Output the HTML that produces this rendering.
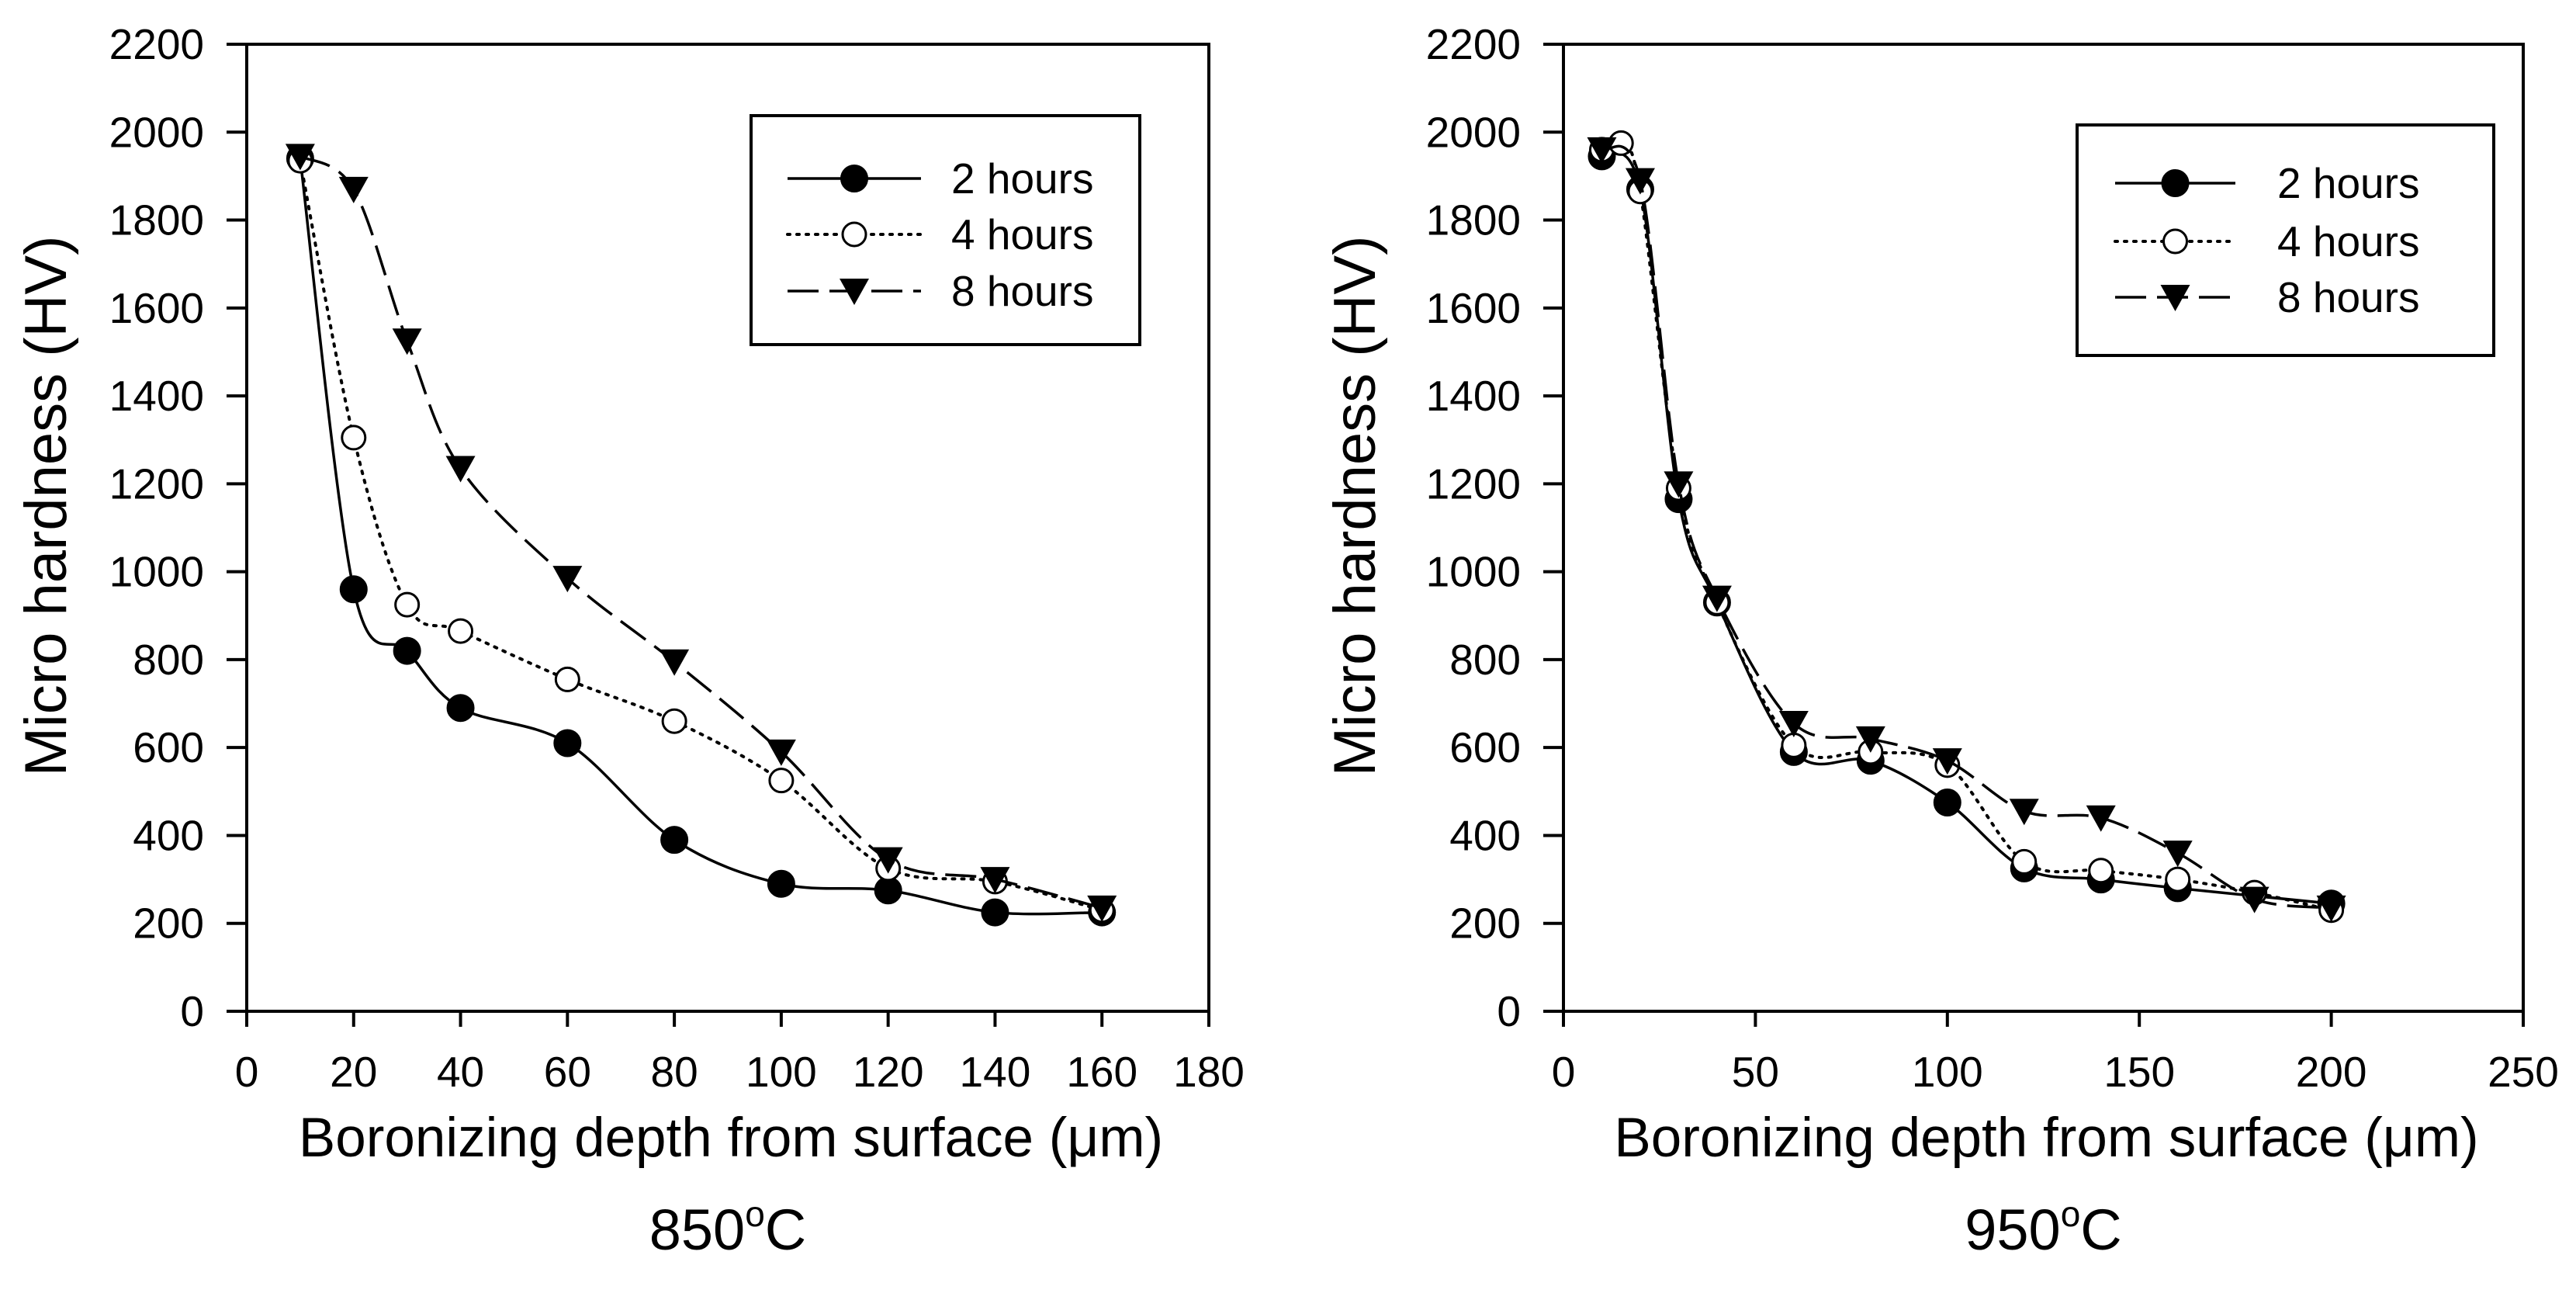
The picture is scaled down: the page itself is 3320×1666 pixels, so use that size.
<!DOCTYPE html>
<html><head><meta charset="utf-8"><style>
html,body{margin:0;padding:0;background:#fff}
svg{display:block}
text{font-family:"Liberation Sans",Arial,sans-serif;fill:#000}
</style></head><body>
<svg id="svg" width="3320" height="1666" viewBox="0 0 3320 1666" xmlns="http://www.w3.org/2000/svg"></svg>
<script>
// ---- data ----
const yTicks = [0,200,400,600,800,1000,1200,1400,1600,1800,2000,2200];
const xTicksA = [0,20,40,60,80,100,120,140,160,180];
const xTicksB = [0,50,100,150,200,250];
const seriesNames = ["2 hours","4 hours","8 hours"];
const a2x = [10,20,30,40,60,80,100,120,140,160];
const a2y = [1940,960,820,690,610,390,290,275,225,225];
const a4x = [10,20,30,40,60,80,100,120,140,160];
const a4y = [1935,1305,925,865,755,660,525,325,295,230];
const a8x = [10,20,30,40,60,80,100,120,140,160];
const a8y = [1945,1870,1525,1235,985,795,590,345,300,235];
const b2x = [10,20,30,40,60,80,100,120,140,160,200];
const b2y = [1945,1870,1165,930,590,570,475,325,300,280,245];
const b4x = [10,15,20,30,40,60,80,100,120,140,160,180,200];
const b4y = [1960,1975,1865,1190,930,605,590,560,340,320,300,270,230];
const b8x = [10,20,30,40,60,80,100,120,140,160,180,200];
const b8y = [1960,1890,1200,940,655,620,570,455,440,360,255,235];

const NS="http://www.w3.org/2000/svg";
const svg=document.getElementById('svg');
function el(tag,attrs,parent){const e=document.createElementNS(NS,tag);for(const k in attrs)e.setAttribute(k,attrs[k]);(parent||svg).appendChild(e);return e;}

function spline(pts){
  let d=`M${pts[0][0]},${pts[0][1]}`;
  for(let i=0;i<pts.length-1;i++){
    const p0=pts[Math.max(i-1,0)],p1=pts[i],p2=pts[i+1],p3=pts[Math.min(i+2,pts.length-1)];
    const c1=[p1[0]+(p2[0]-p0[0])/6,p1[1]+(p2[1]-p0[1])/6];
    const c2=[p2[0]-(p3[0]-p1[0])/6,p2[1]-(p3[1]-p1[1])/6];
    d+=` C${c1[0]},${c1[1]} ${c2[0]},${c2[1]} ${p2[0]},${p2[1]}`;
  }
  return d;
}
const dashes=["none","3 9","40 14"];
function marker(g,kind,x,y){
  let m;
  if(kind===0){m=el('circle',{cx:x,cy:y,r:17,fill:'#000',stroke:'#000','stroke-width':2},g);}
  else if(kind===1){m=el('circle',{cx:x,cy:y,r:15,fill:'#fff',stroke:'#000','stroke-width':3},g);}
  else {m=el('polygon',{points:`${x-19},${y-16} ${x+19},${y-16} ${x},${y+18}`,fill:'#000'},g);}
  
  
}

function chart(cfg){
  const g=el('g',{});
  
  
  const L=cfg.left,R=cfg.right,T=57,B=1303;
  const sx=v=>L+(v-cfg.xmin)/(cfg.xmax-cfg.xmin)*(R-L);
  const sy=v=>B-(v/2200)*(B-T);
  const frame=el('rect',{x:L,y:T,width:R-L,height:B-T,fill:'none',stroke:'#000','stroke-width':4},g);
  
  
  yTicks.forEach(v=>{
    el('line',{x1:L-26,x2:L,y1:sy(v),y2:sy(v),stroke:'#000','stroke-width':4},g);
    const t=el('text',{x:L-55,y:sy(v)+19,'font-size':55,'text-anchor':'end'},g);
    t.textContent=v;
    
    
  });
  cfg.xticks.forEach(v=>{
    el('line',{x1:sx(v),x2:sx(v),y1:B,y2:B+20,stroke:'#000','stroke-width':4},g);
    const t=el('text',{x:sx(v),y:1400,'font-size':55,'text-anchor':'middle'},g);
    t.textContent=v;
    
    
  });
  const yt=el('text',{x:0,y:0,'font-size':76,'text-anchor':'middle',transform:`translate(${cfg.ytx},${(T+B)/2-28}) rotate(-90)`},g);
  yt.textContent='Micro hardness (HV)';
  
  
  const xt=el('text',{x:(L+R)/2+4,y:1490,'font-size':71,'text-anchor':'middle'},g);
  xt.textContent='Boronizing depth from surface (\u03bcm)';
  
  
  const ct=el('text',{x:(L+R)/2,y:1610,'font-size':74,'text-anchor':'middle'},g);
  ct.innerHTML=cfg.temp+'<tspan dy="-30" font-size="46">o</tspan><tspan dy="30">C</tspan>';
  
  
  cfg.series.forEach((s,k)=>{
    const pts=s[0].map((x,i)=>[sx(x),sy(s[1][i])]);
    const p=el('path',{d:spline(pts),fill:'none',stroke:'#000','stroke-width':k===1?4:3.5,'stroke-dasharray':dashes[k],'stroke-linecap':k===1?'round':'butt'},g);
    
    
    pts.forEach(q=>marker(g,k,q[0],q[1]));
  });
  const lg=el('g',{},g);
  
  
  const lb=cfg.legend;
  el('rect',{x:lb.x,y:lb.y,width:lb.w,height:lb.h,fill:'#fff',stroke:'#000','stroke-width':4},lg);
  seriesNames.forEach((n,k)=>{
    const yy=lb.rows[k];
    el('line',{x1:lb.l1,x2:lb.l2,y1:yy,y2:yy,stroke:'#000','stroke-width':k===1?4:3.5,'stroke-dasharray':dashes[k],'stroke-linecap':k===1?'round':'butt'},lg);
    marker(lg,k,(lb.l1+lb.l2)/2,yy);
    const t=el('text',{x:lb.tx,y:yy+19,'font-size':55},lg);
    t.textContent=n;
    
    
  });
}
chart({name:'chart-850c',left:318,right:1558,xmin:0,xmax:180,xticks:xTicksA,temp:'850',ytx:85,
  series:[[a2x,a2y],[a4x,a4y],[a8x,a8y]],
  legend:{x:968,y:149,w:501,h:295,rows:[230,302,375],l1:1015,l2:1187,tx:1226}});
chart({name:'chart-950c',left:2015,right:3252,xmin:0,xmax:250,xticks:xTicksB,temp:'950',ytx:1772,
  series:[[b2x,b2y],[b4x,b4y],[b8x,b8y]],
  legend:{x:2677,y:161,w:537,h:297,rows:[236,311,383],l1:2726,l2:2881,tx:2935}});
</script>
</body></html>
